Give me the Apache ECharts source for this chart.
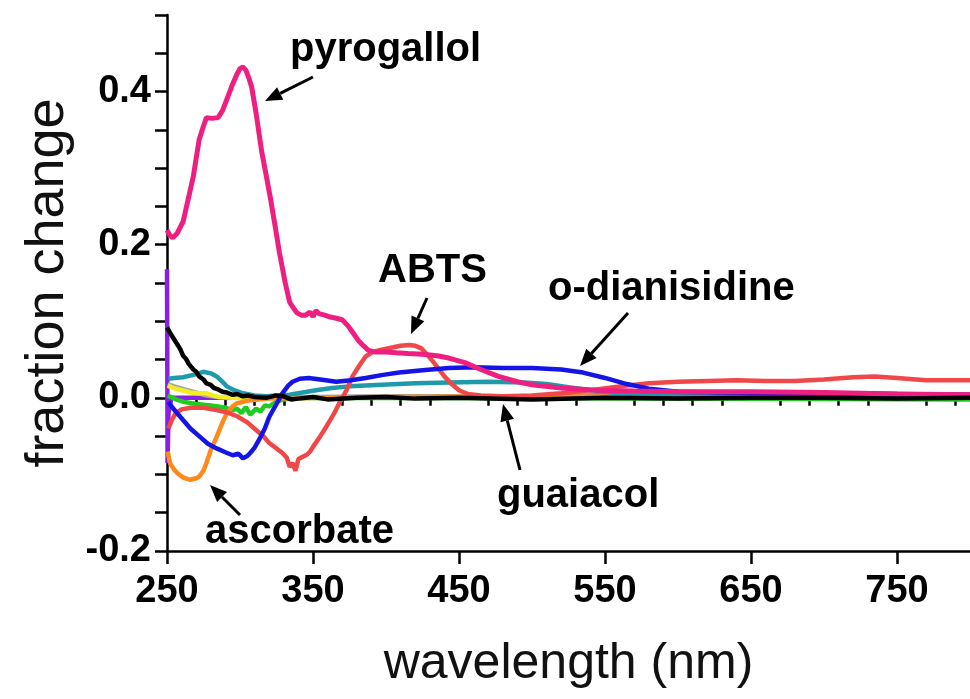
<!DOCTYPE html>
<html>
<head>
<meta charset="utf-8">
<script src="https://cdn.jsdelivr.net/npm/echarts@6/dist/echarts.min.js"></script>
<style>
  html, body { margin: 0; padding: 0; background: #fff; }
  #chart { width: 970px; height: 699px; }
</style>
</head>
<body>
<div id="chart"></div>
<script>
// tick labels
var xLabels = [250, 350, 450, 550, 650, 750]
var xMinor = [270, 290, 310, 330, 370, 390, 410, 430, 470, 490, 510, 530, 570, 590, 610, 630, 670, 690, 710, 730, 770, 790]
var yLabels = [-0.2, 0, 0.2, 0.4]
var yTicks = [-0.2, -0.15, -0.1, -0.05, 0, 0.05, 0.1, 0.15, 0.2, 0.25, 0.3, 0.35, 0.4, 0.45, 0.5]

// spectra, [wavelength nm, fraction change]
var pyrogallol = [[250, 0.219], [252, 0.212], [254, 0.209], [257, 0.215], [261, 0.23], [264, 0.255], [268, 0.289], [272, 0.337], [275, 0.355], [277, 0.366], [281, 0.365], [285, 0.366], [288, 0.375], [290, 0.385], [293, 0.4], [295, 0.41], [298, 0.423], [300, 0.43], [302, 0.432], [304, 0.428], [306, 0.418], [308, 0.406], [311, 0.372], [315, 0.32], [318, 0.29], [321, 0.259], [324, 0.225], [327, 0.19], [331, 0.15], [334, 0.125], [336, 0.119], [339, 0.111], [342, 0.108], [345, 0.108], [348, 0.112], [350, 0.106], [352, 0.114], [354, 0.11], [358, 0.108], [361, 0.106], [366, 0.104], [370, 0.102], [374, 0.094], [377, 0.086], [381, 0.075], [384, 0.069], [388, 0.062], [392, 0.06], [400, 0.06], [407, 0.059], [415, 0.058], [425, 0.057], [435, 0.055], [443, 0.052], [454, 0.046], [465, 0.037], [477, 0.028], [490, 0.021], [500, 0.017], [520, 0.013], [545, 0.01], [570, 0.009], [600, 0.008], [650, 0.008], [700, 0.007], [750, 0.005], [800, 0.004]]
var abts = [[251, -0.04], [253, -0.03], [256, -0.02], [260, -0.015], [266, -0.013], [275, -0.013], [284, -0.016], [291, -0.019], [298, -0.024], [305, -0.032], [311, -0.042], [316, -0.05], [320, -0.059], [325, -0.066], [329, -0.072], [332, -0.078], [334, -0.09], [336, -0.085], [338, -0.095], [340, -0.08], [343, -0.077], [346, -0.074], [348, -0.07], [350, -0.064], [355, -0.05], [359, -0.038], [364, -0.022], [368, -0.007], [373, 0.01], [377, 0.028], [382, 0.043], [386, 0.054], [391, 0.06], [397, 0.063], [405, 0.066], [410, 0.068], [416, 0.069], [420, 0.068], [424, 0.065], [428, 0.057], [432, 0.048], [436, 0.038], [440, 0.028], [445, 0.018], [450, 0.01], [456, 0.005], [465, 0.003], [480, 0.002], [500, 0.003], [520, 0.006], [540, 0.01], [560, 0.015], [580, 0.019], [600, 0.021], [620, 0.022], [640, 0.023], [660, 0.022], [680, 0.022], [700, 0.024], [720, 0.027], [735, 0.028], [750, 0.026], [770, 0.023], [800, 0.023]]
var dianisidine = [[251, -0.005], [253, -0.011], [257, -0.02], [261, -0.029], [266, -0.04], [272, -0.05], [278, -0.06], [284, -0.066], [290, -0.071], [295, -0.075], [299, -0.073], [302, -0.079], [305, -0.076], [307, -0.072], [310, -0.065], [313, -0.055], [317, -0.04], [320, -0.025], [325, -0.008], [329, 0.006], [333, 0.016], [336, 0.021], [341, 0.025], [347, 0.026], [355, 0.024], [366, 0.021], [376, 0.023], [386, 0.026], [398, 0.03], [409, 0.033], [425, 0.036], [443, 0.039], [460, 0.04], [480, 0.039], [500, 0.039], [520, 0.037], [535, 0.033], [550, 0.026], [565, 0.018], [580, 0.012], [600, 0.008], [630, 0.007], [700, 0.006], [800, 0.004]]
var teal = [[251, 0.025], [255, 0.026], [261, 0.027], [268, 0.03], [275, 0.034], [280, 0.032], [284, 0.028], [288, 0.021], [291, 0.015], [296, 0.01], [302, 0.006], [310, 0.003], [318, 0.002], [326, 0.003], [334, 0.004], [343, 0.007], [352, 0.01], [363, 0.013], [375, 0.015], [386, 0.016], [397, 0.017], [420, 0.019], [443, 0.02], [470, 0.021], [495, 0.02], [510, 0.018], [525, 0.014], [540, 0.01], [560, 0.006], [580, 0.004], [620, 0.003], [700, 0.002], [800, 0.001]]
var ascorbate = [[250.5, -0.07], [252, -0.085], [255, -0.094], [257, -0.098], [261, -0.104], [266, -0.107], [270, -0.105], [272, -0.103], [275, -0.095], [277, -0.085], [280, -0.068], [284, -0.051], [288, -0.032], [291, -0.02], [295, -0.011], [298, -0.007], [307, -0.003], [320, -0.001], [400, 0.001], [500, 0.002], [600, 0.001], [800, 0]]
var green = [[250.5, 0.003], [256, -0.002], [261, -0.005], [270, -0.008], [280, -0.01], [284, -0.011], [290, -0.013], [295, -0.016], [298, -0.014], [301, -0.02], [304, -0.012], [307, -0.022], [311, -0.014], [314, -0.018], [317, -0.01], [320, -0.011], [325, -0.005], [330, -0.002], [340, 0], [600, -0.001], [800, -0.002]]
var yellow = [[250.5, 0.016], [254, 0.013], [260, 0.01], [266, 0.007], [272, 0.006], [277, 0.006], [282, 0.003], [286, 0.001], [295, 0], [800, 0]]
var gray = [[250.5, 0.018], [255, 0.015], [262, 0.011], [268, 0.008], [277, 0.003], [285, 0.001], [300, 0], [400, 0.002], [500, 0.002], [600, 0.001], [800, 0]]
var purple = [[250, 0.168], [250.4, -0.085], [251, -0.02], [253, 0], [300, 0], [500, 0.002], [600, 0.004], [800, 0.004]]
var guaiacol = [[250, 0.092], [253, 0.082], [257, 0.07], [259, 0.064], [261, 0.055], [263, 0.051], [265, 0.044], [268, 0.037], [270, 0.034], [272, 0.028], [275, 0.024], [277, 0.019], [280, 0.017], [282, 0.013], [285, 0.011], [288, 0.008], [291, 0.007], [295, 0.004], [298, 0.005], [302, 0.002], [306, 0.003], [310, 0.001], [318, 0], [324, 0.003], [330, 0.002], [335, -0.002], [340, -0.001], [350, 0.001], [360, -0.002], [380, 0], [400, 0.001], [420, -0.001], [450, 0], [500, -0.002], [550, 0], [600, -0.001], [650, 0], [700, 0], [750, -0.001], [800, 0]]

var chart = echarts.init(document.getElementById('chart'), null, { renderer: 'canvas' })

function line(name, data, color, width) {
  return {
    name: name,
    type: 'line',
    data: data,
    showSymbol: false,
    silent: true,
    lineStyle: { color: color, width: width || 4.5 },
    z: 2
  }
}

// arrow = shaft + filled head, pixel positions of the annotation
function arrow(x1, y1, x2, y2) {
  var dx = x2 - x1, dy = y2 - y1
  var len = Math.sqrt(dx * dx + dy * dy)
  var ux = dx / len, uy = dy / len
  var hl = 17, hw = 7
  var bx = x2 - ux * hl, by = y2 - uy * hl
  return [
    { type: 'line', shape: { x1: x1, y1: y1, x2: bx, y2: by }, style: { stroke: '#000', lineWidth: 3 }, z: 10 },
    { type: 'polygon', shape: { points: [[x2, y2], [bx - uy * hw, by + ux * hw], [bx + uy * hw, by - ux * hw]] }, style: { fill: '#000' }, z: 10 }
  ]
}

function label(text, x, y) {
  return {
    type: 'text', x: x, y: y, z: 10,
    style: { text: text, fill: '#000', font: 'bold 40px "Liberation Sans", Arial, sans-serif', verticalAlign: 'middle' }
  }
}

var graphics = [
  label('pyrogallol', 290, 50),
  label('ABTS', 378, 271),
  label('o-dianisidine', 548, 289),
  label('guaiacol', 497, 496),
  label('ascorbate', 205, 532)
]
  .concat(arrow(313, 77, 265, 101))
  .concat(arrow(427, 298, 411, 334))
  .concat(arrow(628, 313, 580, 366))
  .concat(arrow(520, 470, 503, 404))
  .concat(arrow(240, 515, 210, 485))

chart.setOption({
  animation: false,
  backgroundColor: '#fff',
  grid: { left: 167, right: 0, top: 15, bottom: 148 },
  xAxis: [
    {
      type: 'value',
      min: 250,
      max: 800,
      name: 'wavelength (nm)',
      nameLocation: 'middle',
      nameGap: 88,
      nameTextStyle: { fontSize: 50, color: '#111', fontFamily: 'Liberation Sans' },
      axisLine: { show: true, onZero: false, lineStyle: { color: '#000', width: 2.5 } },
      axisTick: { show: true, length: 13, customValues: xLabels, lineStyle: { color: '#000', width: 2.5 } },
      axisLabel: {
        customValues: xLabels,
        margin: 22,
        fontSize: 38,
        fontWeight: 'bold',
        fontFamily: 'Liberation Sans',
        color: '#000'
      },
      splitLine: { show: false }
    },
    {
      type: 'value',
      min: 250,
      max: 800,
      position: 'bottom',
      axisLine: { show: false },
      axisTick: { show: true, length: 8, customValues: xMinor, lineStyle: { color: '#000', width: 2.5 } },
      axisLabel: { show: false },
      splitLine: { show: false }
    }
  ],
  yAxis: {
    type: 'value',
    min: -0.2,
    max: 0.5,
    name: 'fraction change',
    nameLocation: 'middle',
    nameGap: 90,
    nameTextStyle: { fontSize: 54, color: '#111', fontFamily: 'Liberation Sans' },
    axisLine: { show: true, onZero: false, lineStyle: { color: '#000', width: 2.5 } },
    axisTick: { show: true, length: 12, customValues: yTicks, lineStyle: { color: '#000', width: 2.5 } },
    axisLabel: {
      customValues: yLabels,
      margin: 16,
      fontSize: 38,
      fontWeight: 'bold',
      fontFamily: 'Liberation Sans',
      color: '#000',
      formatter: function(v) { return v.toFixed(1) }
    },
    splitLine: { show: false }
  },
  series: [
    line('purple', purple, '#8a1ee6'),
    line('gray', gray, '#a6a6a6'),
    line('yellow', yellow, '#f2ee22'),
    line('green', green, '#1fcc1f'),
    line('ascorbate', ascorbate, '#ff8a1c'),
    line('teal', teal, '#1f9aaa'),
    line('ABTS', abts, '#f04848'),
    line('o-dianisidine', dianisidine, '#1414e6'),
    line('pyrogallol', pyrogallol, '#ee1f80', 5),
    line('guaiacol', guaiacol, '#000000')
  ],
  graphic: graphics
})
</script>
</body>
</html>
